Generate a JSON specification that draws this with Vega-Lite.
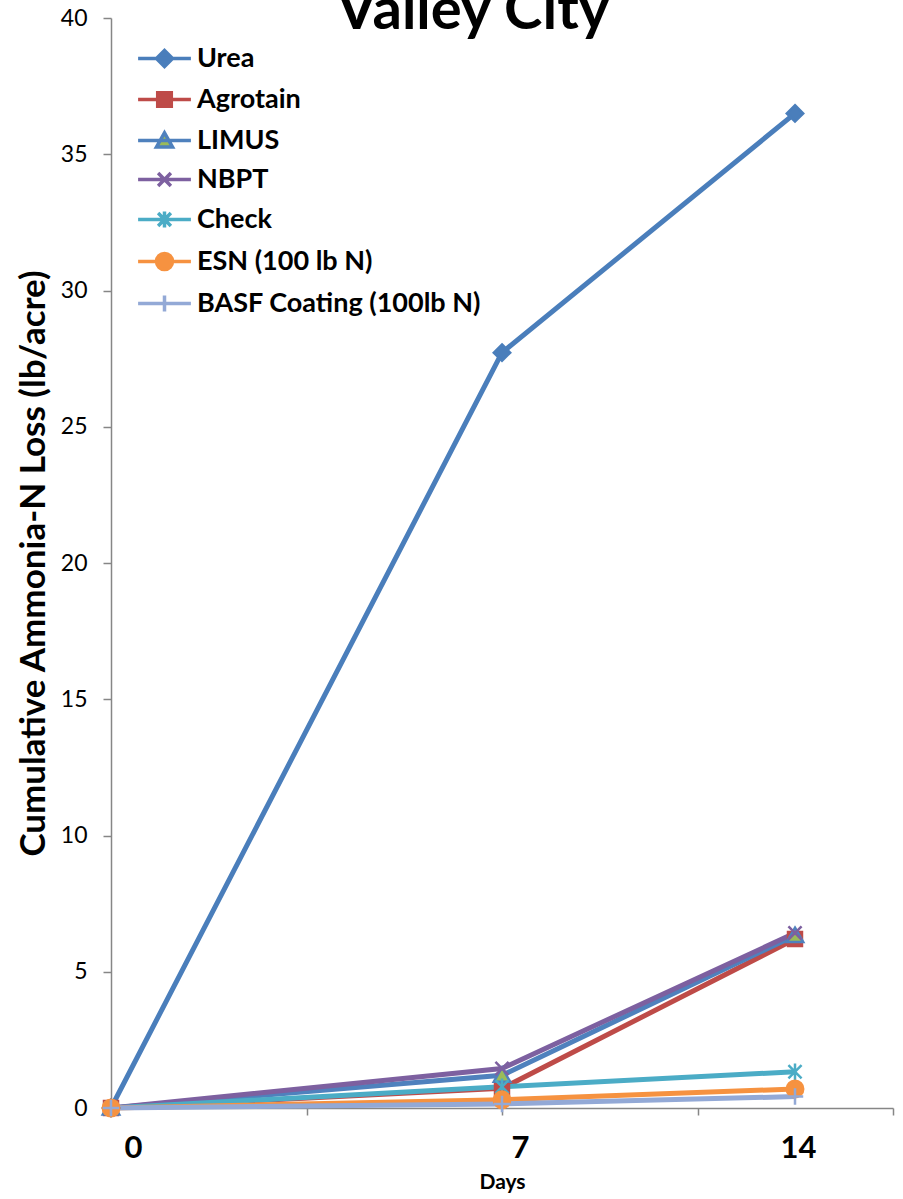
{
  "$schema": "https://vega.github.io/schema/vega-lite/v6.json",
  "autosize": "none",
  "padding": {"left": 111, "top": 18, "right": 10, "bottom": 91},
  "width": 782,
  "height": 1090,
  "background": "white",
  "config": {"view": {"stroke": null}},
  "title": {
    "text": "Valley City",
    "font": "Lato",
    "fontSize": 58,
    "fontWeight": "bold",
    "color": "black",
    "anchor": "middle",
    "frame": "group",
    "baseline": "alphabetic",
    "offset": 0,
    "dy": 80,
    "dx": -29
  },
  "data": {
    "values": [
      {"series": "Urea", "day": 0, "loss": 0},
      {"series": "Urea", "day": 7, "loss": 27.72},
      {"series": "Urea", "day": 14, "loss": 36.5},
      {"series": "Agrotain", "day": 0, "loss": 0},
      {"series": "Agrotain", "day": 7, "loss": 0.72},
      {"series": "Agrotain", "day": 14, "loss": 6.2},
      {"series": "LIMUS", "day": 0, "loss": 0},
      {"series": "LIMUS", "day": 7, "loss": 1.2},
      {"series": "LIMUS", "day": 14, "loss": 6.33},
      {"series": "NBPT", "day": 0, "loss": 0},
      {"series": "NBPT", "day": 7, "loss": 1.45},
      {"series": "NBPT", "day": 14, "loss": 6.42},
      {"series": "Check", "day": 0, "loss": 0},
      {"series": "Check", "day": 7, "loss": 0.78},
      {"series": "Check", "day": 14, "loss": 1.33},
      {"series": "ESN (100 lb N)", "day": 0, "loss": 0},
      {"series": "ESN (100 lb N)", "day": 7, "loss": 0.3},
      {"series": "ESN (100 lb N)", "day": 14, "loss": 0.7},
      {"series": "BASF Coating (100lb N)", "day": 0, "loss": 0},
      {"series": "BASF Coating (100lb N)", "day": 7, "loss": 0.15},
      {"series": "BASF Coating (100lb N)", "day": 14, "loss": 0.42}
    ]
  },
  "encoding": {
    "x": {
      "field": "day",
      "type": "quantitative",
      "scale": {"domain": [0, 7, 14, 16.34], "range": [0, 391, 684, 782], "nice": false, "zero": false},
      "axis": {
        "title": "Days",
        "titleFont": "Lato",
        "titleFontSize": 21,
        "titleFontWeight": "bold",
        "titleColor": "black",
        "titlePadding": 8,
        "values": [0, 3.5, 7, 11.68, 14, 16.34],
        "labelExpr": "datum.value == 0 || datum.value == 7 || datum.value == 14 ? datum.label : ''",
        "labelFont": "Lato",
        "labelFontSize": 31,
        "labelFontWeight": "bold",
        "labelColor": "black",
        "labelPadding": 18,
        "labelFlush": false,
        "labelOverlap": false,
        "labelOffset": {"condition": [{"test": "datum.value == 0", "value": 22}, {"test": "datum.value == 7", "value": 18}], "value": 3},
        "tickOpacity": {"condition": {"test": "datum.value == 0 || datum.value == 14", "value": 0}, "value": 1},
        "tickSize": 7,
        "tickWidth": 1.5,
        "tickColor": "#868686",
        "domainColor": "#868686",
        "domainWidth": 1.5,
        "grid": false
      }
    },
    "y": {
      "field": "loss",
      "type": "quantitative",
      "scale": {"domain": [0, 40], "nice": false},
      "axis": {
        "title": "Cumulative Ammonia-N Loss (lb/acre)",
        "titleFont": "Lato",
        "titleFontSize": 35,
        "titleFontWeight": "bold",
        "titleColor": "black",
        "titlePadding": 9,
        "values": [0, 5, 10, 15, 20, 25, 30, 35, 40],
        "labelFont": "Lato",
        "labelFontSize": 23,
        "labelColor": "black",
        "labelPadding": 16,
        "tickSize": 8,
        "tickWidth": 1.5,
        "tickColor": "#868686",
        "domainColor": "#868686",
        "domainWidth": 1.5,
        "grid": false
      }
    },
    "stroke": {
      "field": "series",
      "type": "nominal",
      "sort": null,
      "scale": {
        "domain": ["Urea", "Agrotain", "LIMUS", "NBPT", "Check", "ESN (100 lb N)", "BASF Coating (100lb N)"],
        "range": ["#4a7ebb", "#be4b48", "#4f81bd", "#7d60a0", "#4bacc6", "#f69240", "#93a9d6"]
      },
      "legend": {
        "title": null,
        "orient": "none",
        "legendX": 40,
        "legendY": 27,
        "direction": "vertical",
        "padding": 0,
        "labelFont": "Lato",
        "labelFontSize": 27,
        "labelFontWeight": "bold",
        "labelColor": "black",
        "labelLimit": 0,
        "symbolSize": 256,
        "symbolStrokeWidth": 3,
        "symbolOpacity": 1,
        "rowPadding": 11,
        "labelOffset": 19,
        "encode": {
          "symbols": {
            "update": {
              "shape": {"signal": "datum.value == 'Urea' ? 'M-3.3,0H3.3M0,-1L1,0L0,1L-1,0Z' : datum.value == 'Agrotain' ? 'M-3.3,0H3.3M-0.85,-0.85H0.85V0.85H-0.85Z' : datum.value == 'LIMUS' ? 'M-3.3,0H3.3M0,-0.95L1,0.8H-1Z' : datum.value == 'NBPT' ? 'M-3.3,0H3.3M-0.8,-0.8L0.8,0.8M-0.8,0.8L0.8,-0.8' : datum.value == 'Check' ? 'M-3.3,0H3.3M-0.8,-0.8L0.8,0.8M-0.8,0.8L0.8,-0.8M0,-1V1' : datum.value == 'ESN (100 lb N)' ? 'M-3.3,0H3.3M-1,0A1,1,0,1,1,1,0A1,1,0,1,1,-1,0Z' : 'M-3.3,0H3.3M0,-1V1'"},
              "fill": {"signal": "datum.value == 'LIMUS' ? '#9bbb59' : scale('stroke', datum.value)"},
              "strokeWidth": {"value": 3.5},
              "opacity": {"value": 1}
            }
          }
        }
      }
    }
  },
  "layer": [
    {
      "mark": {"type": "line", "strokeWidth": 5},
      "encoding": {}
    },
    {
      "mark": {"type": "point", "filled": true, "size": 270, "strokeWidth": 2.5, "opacity": 1},
      "encoding": {
        "fill": {
          "condition": [
            {"test": "datum.series == 'Urea'", "value": "#4a7ebb"},
            {"test": "datum.series == 'Agrotain'", "value": "#be4b48"},
            {"test": "datum.series == 'LIMUS'", "value": "#9bbb59"},
            {"test": "datum.series == 'NBPT'", "value": "#7d60a0"},
            {"test": "datum.series == 'Check'", "value": "#4bacc6"},
            {"test": "datum.series == 'ESN (100 lb N)'", "value": "#f69240"}
          ],
          "value": "#93a9d6"
        },
        "shape": {
          "condition": [
            {"test": "datum.series == 'Urea'", "value": "M0,-1L1,0L0,1L-1,0Z"},
            {"test": "datum.series == 'Agrotain'", "value": "M-0.85,-0.85H0.85V0.85H-0.85Z"},
            {"test": "datum.series == 'LIMUS'", "value": "M0,-0.95L1,0.8H-1Z"},
            {"test": "datum.series == 'NBPT'", "value": "M-0.8,-0.8L0.8,0.8M-0.8,0.8L0.8,-0.8"},
            {"test": "datum.series == 'Check'", "value": "M-0.8,-0.8L0.8,0.8M-0.8,0.8L0.8,-0.8M0,-1V1"},
            {"test": "datum.series == 'ESN (100 lb N)'", "value": "M-1,0A1,1,0,1,1,1,0A1,1,0,1,1,-1,0Z"}
          ],
          "value": "M-1,0H1M0,-1V1"
        }
      }
    }
  ]
}
